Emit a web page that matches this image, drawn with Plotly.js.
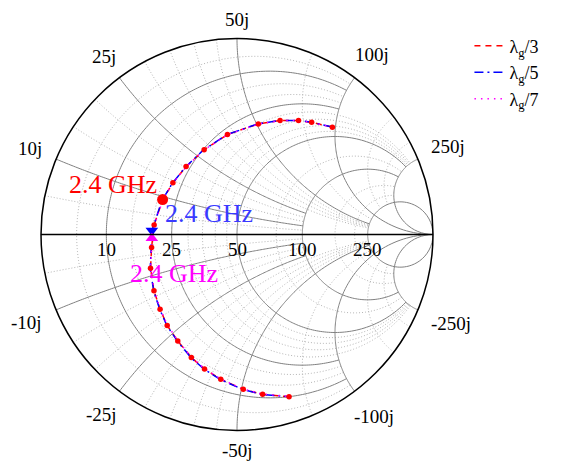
<!DOCTYPE html>
<html><head><meta charset="utf-8">
<script src="https://cdn.plot.ly/plotly-3.0.1.min.js"></script>
<style>html,body{margin:0;padding:0;background:#fff}#chart{width:576px;height:461px}</style>
</head><body><div id="chart"></div>
<script>
// ---------------- data (ohms) ----------------
const Z0 = 50;
const seriesNames = ['λ<sub>g</sub>/3', 'λ<sub>g</sub>/5', 'λ<sub>g</sub>/7'];

const r3 = [41.1, 37.1, 34.8, 32.4, 30.1, 27.1, 25.3, 23.8, 22.5, 21.3, 20.2, 19.5, 18.4, 17.5, 16.8, 16.0, 15.4, 14.4, 13.7, 13.0, 12.0, 11.2, 10.0];
const x3 = [97.2, 80.5, 71.9, 61.4, 50.7, 37.5, 27.9, 20.3, 14.4, 9.2, 2.4, -3.2, -8.2, -13.6, -18.3, -22.6, -27.3, -32.8, -37.5, -43.0, -50.6, -57.4, -67.6];

const r5 = [41.0, 37.0, 34.7, 32.3, 30.0, 27.0, 25.2, 23.7, 22.4, 21.2, 20.1, 19.7, 19.4, 18.3, 17.4, 16.7, 15.9, 15.3, 14.3, 13.6, 12.9, 11.9, 11.1, 10.0];
const x5 = [97.0, 80.3, 71.7, 61.2, 50.5, 37.3, 27.7, 20.1, 14.2, 9.0, 2.3, 1.0, -3.3, -8.3, -13.7, -18.4, -22.7, -27.4, -32.9, -37.6, -43.1, -50.7, -57.5, -67.5];

const r7 = [41.2, 37.2, 34.9, 32.5, 30.2, 27.2, 25.4, 23.9, 22.6, 21.4, 20.3, 19.7, 19.5, 18.5, 17.6, 16.9, 16.1, 15.5, 14.5, 13.8, 13.1, 12.1, 11.3, 10.1];
const x7 = [97.4, 80.7, 72.1, 61.6, 50.9, 37.7, 28.1, 20.5, 14.6, 9.4, 2.5, -0.9, -3.1, -8.1, -13.5, -18.2, -22.5, -27.2, -32.7, -37.4, -42.9, -50.5, -57.3, -67.7];

// 2.4 GHz points of each series
const f24R = [21.3, 19.7, 19.7];
const f24X = [9.2, 1.0, -0.9];
const f24Text = ['2.4 GHz', '2.4 GHz', '2.4 GHz'];

// axis ticks (ohms)
const realTicks = [10, 25, 50, 100, 250];
const realTickText = ['10', '25', '50', '100', '250'];
const imagTicks = [10, 25, 50, 100, 250, -10, -25, -50, -100, -250];
const imagTickText = ['10j', '25j', '50j', '100j', '250j', '-10j', '-25j', '-50j', '-100j', '-250j'];

// grid lines (ohms) and their clipping limits (ohms)
const majorGrid = [10, 25, 50, 100, 250];
const majorRealClip = [100, 100, 250, 250, Infinity];
const majorImagClip = [100, 100, 250, Infinity, Infinity];
const minorGrid = [5, 15, 20, 30, 35, 40, 45, 75, 150, 200];
const minorRealClip = [100, 100, 100, 250, 250, 250, 250, 250, 250, 250];
const minorImagClip = [100, 100, 100, 250, 250, 250, 250, 250, 250, 250];

// ---------------- styles ----------------
const W = 576, H = 461, CX = 237, CY = 234.5, RAD = 196;
const serif = 'Liberation Serif, Times New Roman, serif';
const colors = ['#ff0000', '#0000ff', '#ff00ff'];
const textColors = ['#ff0000', '#3a3aff', '#ff00ff'];
const dashes = ['6px,5px', '9px,4px,2px,4px', '1.5px,5px'];
const f24Symbols = ['circle', 'triangle-down', 'triangle-up'];
const f24Sizes = [11, 11, 11];
const f24Shift = [[-50, -15], [57, -17], [22, 35]];

// ---------------- helpers ----------------
function tanRange(maxv, n) {  // sampling 0..maxv (maxv may be Infinity)
  const tmax = isFinite(maxv) ? Math.atan(maxv) : Math.PI / 2 - 1e-4;
  const out = [];
  for (let i = 0; i <= n; i++) out.push(Math.tan(tmax * i / n));
  return out;
}
function gridLines(vals, realClip, imagClip) {
  const re = [], im = [];
  vals.forEach((v, i) => {
    const g = v / Z0;
    const xs = tanRange(realClip[i] / Z0, 150);
    const full = xs.slice().reverse().map(t => -t).concat(xs.slice(1));
    full.forEach(t => { re.push(g); im.push(t); });
    re.push(null); im.push(null);
    const rs = tanRange(imagClip[i] / Z0, 150);
    [1, -1].forEach(s => {
      rs.forEach(r => { re.push(r); im.push(s * g); });
      re.push(null); im.push(null);
    });
  });
  return {re, im};
}
function gammaPx(r, x) {
  const dr = (r + 1) * (r + 1) + x * x;
  const a = (r * r + x * x - 1) / dr, b = 2 * x / dr;
  return [CX + RAD * a, CY - RAD * b];
}
const toPaper = p => [p[0] / W, 1 - p[1] / H];

const traces = [];
const maj = gridLines(majorGrid, majorRealClip, majorImagClip);
const mnr = gridLines(minorGrid, minorRealClip, minorImagClip);
traces.push({type: 'scattersmith', mode: 'lines', real: mnr.re, imag: mnr.im, connectgaps: false,
  line: {color: '#b4b4b4', width: 1, dash: '1px,2px'}, hoverinfo: 'skip', showlegend: false});
traces.push({type: 'scattersmith', mode: 'lines', real: maj.re, imag: maj.im, connectgaps: false,
  line: {color: '#808080', width: 1}, hoverinfo: 'skip', showlegend: false});

const R = [r3, r5, r7], X = [x3, x5, x7];
R.forEach((rr, k) => {
  traces.push({type: 'scattersmith', mode: 'lines', name: seriesNames[k],
    real: rr.map(v => v / Z0), imag: X[k].map(v => v / Z0),
    line: {color: colors[k], width: 1.5, dash: dashes[k]}});
});
traces.push({type: 'scattersmith', mode: 'markers', showlegend: false,
  real: r5.map(v => v / Z0), imag: x5.map(v => v / Z0), marker: {color: colors[1], size: 3}});
traces.push({type: 'scattersmith', mode: 'markers', showlegend: false,
  real: r3.map(v => v / Z0), imag: x3.map(v => v / Z0), marker: {color: colors[0], size: 5.5}});
f24R.forEach((v, k) => {
  traces.push({type: 'scattersmith', mode: 'markers', showlegend: false,
    real: [v / Z0], imag: [f24X[k] / Z0],
    marker: {color: colors[k], size: f24Sizes[k], symbol: f24Symbols[k]}});
});

const annotations = [];
const tickFont = {family: serif, size: 19, color: '#000'};
realTicks.forEach((v, i) => {
  const p = gammaPx(v / Z0, 0);
  const q = toPaper([p[0], p[1] + 15]);
  annotations.push({xref: 'paper', yref: 'paper', x: q[0], y: q[1], text: realTickText[i],
    showarrow: false, xanchor: 'center', yanchor: 'middle', font: tickFont});
});
imagTicks.forEach((v, i) => {
  const p = gammaPx(0, v / Z0);
  const ux = (p[0] - CX) / RAD, uy = (p[1] - CY) / RAD;
  const w = imagTickText[i].length * 9.3, h = 15;
  const d = 12 + (w / 2) * Math.abs(ux) + (h / 2) * Math.abs(uy);
  const q = toPaper([p[0] + ux * d, p[1] + uy * d]);
  annotations.push({xref: 'paper', yref: 'paper', x: q[0], y: q[1], text: imagTickText[i],
    showarrow: false, xanchor: 'center', yanchor: 'middle', font: tickFont});
});
f24R.forEach((v, k) => {
  const p = gammaPx(v / Z0, f24X[k] / Z0);
  const q = toPaper([p[0] + f24Shift[k][0], p[1] + f24Shift[k][1]]);
  annotations.push({xref: 'paper', yref: 'paper', x: q[0], y: q[1], text: f24Text[k],
    showarrow: false, xanchor: 'center', yanchor: 'middle',
    font: {family: serif, size: 26, color: textColors[k]}});
});

const layout = {
  width: W, height: H, margin: {l: 0, r: 0, t: 0, b: 0},
  paper_bgcolor: '#fff', plot_bgcolor: '#fff',
  showlegend: true,
  legend: {x: 0.815, y: 0.94, xanchor: 'left', yanchor: 'top', bgcolor: 'rgba(0,0,0,0)',
    font: {family: serif, size: 18, color: '#000'}},
  smith: {
    domain: {x: [(CX - RAD) / W, (CX + RAD) / W], y: [(H - CY - RAD) / H, (H - CY + RAD) / H]},
    bgcolor: '#fff',
    realaxis: {showgrid: false, showticklabels: false, ticks: '', showline: true, linecolor: '#000', linewidth: 1.5},
    imaginaryaxis: {showgrid: false, showticklabels: false, ticks: '', showline: true, linecolor: '#000', linewidth: 1.5}
  },
  annotations: annotations
};
Plotly.newPlot('chart', traces, layout, {displayModeBar: false, staticPlot: true});
</script>
</body></html>
